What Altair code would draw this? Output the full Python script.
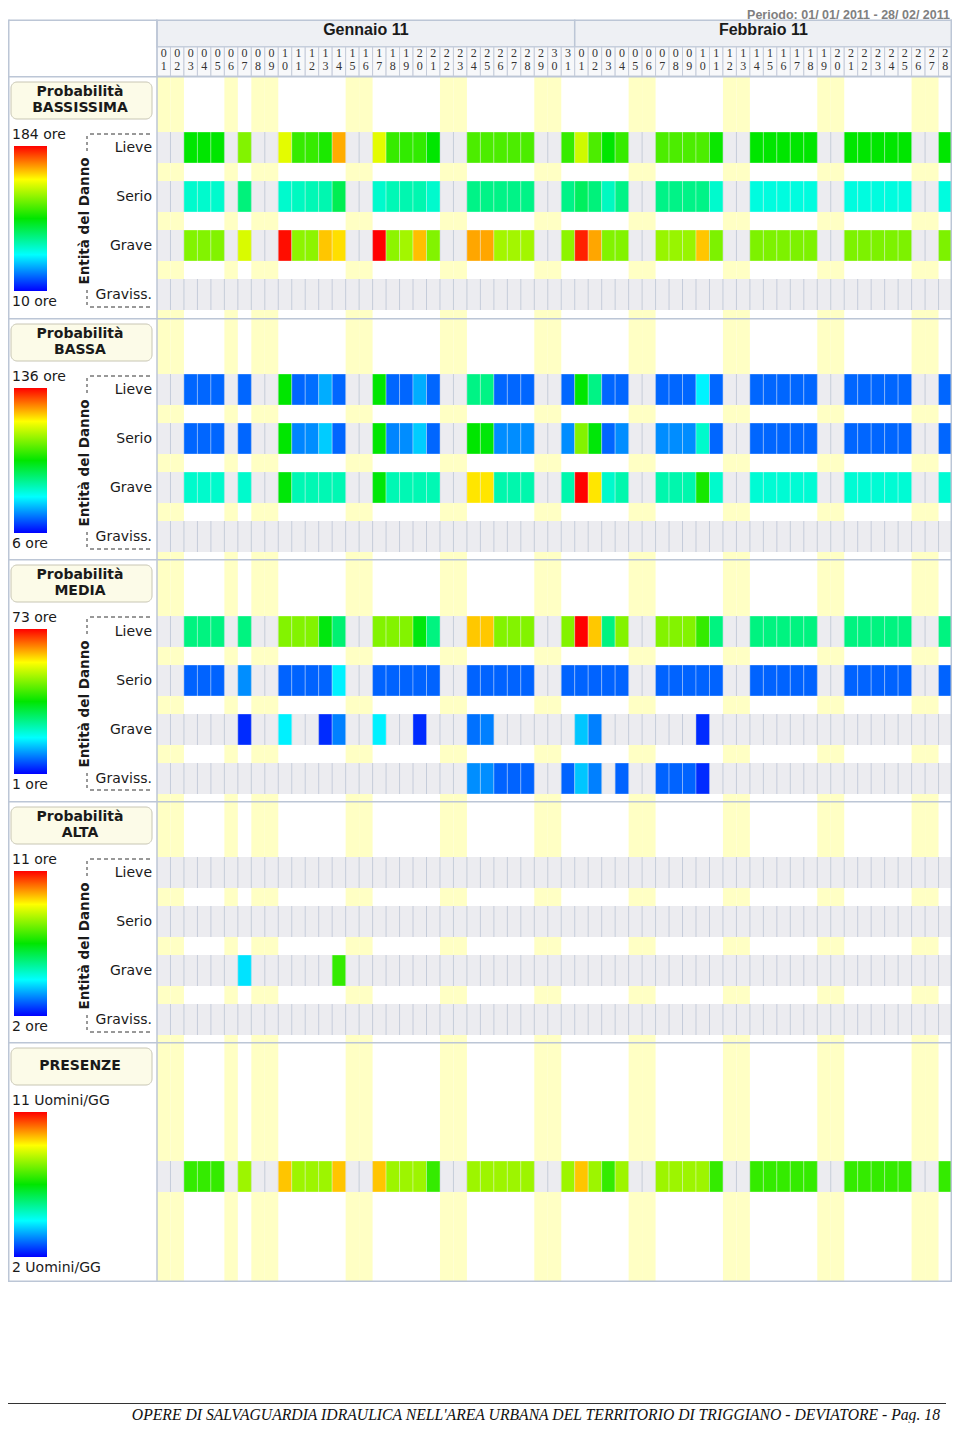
import altair as alt
import pandas as pd

# ---------------------------------------------------------------- data
MESI = ["Gennaio 11", "Febbraio 11"]
GIORNI_MESE = [31, 28]
FESTIVI = {"Gennaio 11": [1, 2, 6, 8, 9, 15, 16, 22, 23, 29, 30],
           "Febbraio 11": [5, 6, 12, 13, 19, 20, 26, 27]}
RIGHE = ["Lieve", "Serio", "Grave", "Graviss."]
PERIODO = "Periodo: 01/ 01/ 2011 - 28/ 02/ 2011"
PIEDE = ("OPERE DI SALVAGUARDIA IDRAULICA NELL'AREA URBANA DEL TERRITORIO "
         "DI TRIGGIANO - DEVIATORE - Pag. 18")
_ = None

# one value per working day:
# Jan 3,4,5,7 | 10-14 | 17-21 | 24-28 | 31 | Feb 1-4 | 7-11 | 14-18 | 21-25 | 28
BASSISSIMA_LIEVE = [97, 97, 97, 121, 139, 107, 107, 102, 157, 139, 107, 106, 106, 97,
                    111, 111, 111, 111, 111, 107, 135, 111, 97, 107, 111, 111, 111, 111, 99,
                    97, 97, 97, 97, 97, 97, 97, 97, 97, 97, 97]
BASSISSIMA_SERIO = [62, 62, 62, 76, 62, 64, 66, 67, 83, 62, 66, 67, 67, 62,
                    74, 74, 74, 74, 74, 74, 81, 76, 64, 74, 74, 74, 74, 74, 62,
                    59, 59, 59, 59, 59, 59, 59, 59, 59, 59, 59]
BASSISSIMA_GRAVE = [121, 121, 121, 137, 182, 123, 123, 153, 149, 184, 123, 127, 154, 121,
                    158, 158, 127, 127, 127, 123, 179, 158, 121, 121, 125, 125, 125, 153, 120,
                    120, 120, 120, 120, 120, 120, 120, 120, 120, 120, 120]
BASSISSIMA_GRAVISS = [_] * 40

BASSA_LIEVE = [19, 19, 19, 19, 71, 19, 20, 28, 19, 71, 19, 19, 28, 19,
               54, 54, 19, 19, 19, 19, 71, 54, 19, 19, 19, 19, 19, 37, 19,
               19, 19, 19, 19, 19, 19, 19, 19, 19, 19, 19]
BASSA_SERIO = [19, 19, 19, 19, 71, 23, 24, 32, 19, 71, 23, 24, 32, 19,
               71, 70, 24, 24, 24, 24, 89, 70, 19, 24, 24, 24, 24, 45, 19,
               19, 19, 19, 19, 19, 19, 19, 19, 19, 19, 19]
BASSA_GRAVE = [45, 45, 45, 45, 70, 48, 48, 48, 48, 70, 48, 48, 48, 48,
               109, 109, 49, 49, 49, 49, 136, 109, 45, 49, 49, 49, 49, 74, 45,
               44, 44, 44, 44, 44, 44, 44, 44, 44, 44, 44]
BASSA_GRAVISS = [_] * 40

MEDIA_LIEVE = [28, 28, 28, 28, 47, 47, 47, 36, 29, 47, 47, 47, 36, 28,
               60, 60, 47, 47, 47, 47, 73, 60, 28, 47, 47, 47, 47, 41, 28,
               28, 28, 28, 28, 28, 28, 28, 28, 28, 28, 28]
MEDIA_SERIO = [8, 8, 8, 11, 8, 8, 8, 8, 18, 8, 8, 8, 8, 8,
               8, 8, 8, 8, 8, 8, 8, 8, 8, 8, 8, 8, 8, 8, 8,
               8, 8, 8, 8, 8, 8, 8, 8, 8, 8, 8]
MEDIA_GRAVE = [_, _, _, 4, 18, _, _, 4, 10, 18, _, _, 4, _,
               9, 10, _, _, _, _, 15, 10, _, _, _, _, _, 4, _,
               _, _, _, _, _, _, _, _, _, _, _]
MEDIA_GRAVISS = [_, _, _, _, _, _, _, _, _, _, _, _, _, _,
                 11, 11, 8, 8, 8, 8, 15, 10, _, 8, 8, 8, 8, 4, _,
                 _, _, _, _, _, _, _, _, _, _, _]

ALTA_LIEVE = [_] * 40
ALTA_SERIO = [_] * 40
ALTA_GRAVE = [_, _, _, 4, _, _, _, _, 7, _, _, _, _, _,
              _, _, _, _, _, _, _, _, _, _, _, _, _, _, _,
              _, _, _, _, _, _, _, _, _, _, _]
ALTA_GRAVISS = [_] * 40

PRESENZE = [7, 7, 7, 8, 9.4, 8, 8, 8, 9.4, 9.4, 8, 8, 8, 7,
            8, 8, 8, 8, 8, 8, 9.4, 8, 7, 8, 8, 8, 8, 8, 7,
            7, 7, 7, 7, 7, 7, 7, 7, 7, 7, 7]

PANNELLI = [
    dict(titolo=["Probabilità", "BASSISSIMA"], vmax=184, vmin=10, unita="ore",
         righe=list(zip(RIGHE, [BASSISSIMA_LIEVE, BASSISSIMA_SERIO, BASSISSIMA_GRAVE, BASSISSIMA_GRAVISS]))),
    dict(titolo=["Probabilità", "BASSA"], vmax=136, vmin=6, unita="ore",
         righe=list(zip(RIGHE, [BASSA_LIEVE, BASSA_SERIO, BASSA_GRAVE, BASSA_GRAVISS]))),
    dict(titolo=["Probabilità", "MEDIA"], vmax=73, vmin=1, unita="ore",
         righe=list(zip(RIGHE, [MEDIA_LIEVE, MEDIA_SERIO, MEDIA_GRAVE, MEDIA_GRAVISS]))),
    dict(titolo=["Probabilità", "ALTA"], vmax=11, vmin=2, unita="ore",
         righe=list(zip(RIGHE, [ALTA_LIEVE, ALTA_SERIO, ALTA_GRAVE, ALTA_GRAVISS]))),
    dict(titolo=["PRESENZE"], vmax=11, vmin=2, unita="Uomini/GG",
         righe=[("", PRESENZE)]),
]

# ---------------------------------------------------------------- layout / style
W = 944
H = 1415
CW = 13.475                 # px per day
X0 = 149.0                  # px where day 0 starts
XR = X0 + 59 * CW - 0.75    # right frame
XDOM = [-X0 / CW, (W - X0) / CW]
PITCH = 49.0
BAND = 31.0
H_HEAD = 68
H_PAN = [242, 241, 242, 241, 240]
P_TOP = [H_HEAD]
for hh in H_PAN[:-1]:
    P_TOP.append(P_TOP[-1] + hh)
TOP_ROW = [56, 56, 57, 56, 119]
FOOT_LINE = 1395.5
FOOT_TEXT = 1411.5

FRAME = "#bcc6d6"
SEP = "#c5ccda"
GRAY = "#ececf0"
YELLOW = "#ffffc4"
TXT = "#1a1a1a"
SANS = "DejaVu Sans"

STOP_T = [0, 0.25, 0.5, 0.77, 1]
STOP_C = ["#0000ff", "#00ffff", "#00e600", "#ffff00", "#ff0000"]

# day table
giorni = []
for mese, n in zip(MESI, GIORNI_MESE):
    for g in range(1, n + 1):
        giorni.append(dict(d=len(giorni), mese=mese, g=g, fest=g in FESTIVI[mese],
                           dec=str(g // 10), uni=str(g % 10)))
df_g = pd.DataFrame(giorni)
NG = len(df_g)
LAV = df_g[~df_g.fest].d.tolist()

xsc = alt.Scale(domain=XDOM, nice=False, zero=False)
ONE = pd.DataFrame({"a": [0]})


def XF(f):
    return alt.X(f, type="quantitative", scale=xsc, axis=None)


def testo(txt, x, y, size, bold=False, align="left", font=SANS, color=TXT,
          angle=0, baseline="middle", italic=False):
    return alt.Chart(pd.DataFrame({"t": [txt]})).mark_text(
        align=align, baseline=baseline, fontSize=size, font=font,
        fontWeight="bold" if bold else "normal",
        fontStyle="italic" if italic else "normal", color=color, angle=angle
    ).encode(x=alt.value(x), y=alt.value(y), text="t:N")


def linea(x1, y1, x2, y2, color=FRAME, w=1.5, dash=None):
    kw = dict(color=color, strokeWidth=w)
    if dash:
        kw["strokeDash"] = dash
    return alt.Chart(ONE).mark_rule(**kw).encode(
        x=alt.value(x1), x2=alt.value(x2), y=alt.value(y1), y2=alt.value(y2))


def box(x1, y1, x2, y2, fill, stroke=None, r=0, w=1.0):
    kw = dict(fill=fill, cornerRadius=r)
    if stroke:
        kw.update(stroke=stroke, strokeWidth=w)
    return alt.Chart(ONE).mark_rect(**kw).encode(
        x=alt.value(x1), x2=alt.value(x2), y=alt.value(y1), y2=alt.value(y2))


gradiente = alt.LinearGradient(
    gradient="linear", x1=0, x2=0, y1=1, y2=0,
    stops=[alt.GradientStop(color=c, offset=t) for t, c in zip(STOP_T, STOP_C)])

# ---------------------------------------------------------------- header
mesi_df = pd.DataFrame(dict(mese=MESI,
                            i0=[0, GIORNI_MESE[0]],
                            i1=[GIORNI_MESE[0], GIORNI_MESE[0] + GIORNI_MESE[1]]))
head = alt.layer(
    testo(PERIODO, 942, 0.5, 12.5, bold=True, align="right", font="Liberation Sans",
          color="#808080", baseline="top"),
    alt.Chart(mesi_df).mark_rect(fill="#eef0f4", stroke=FRAME, strokeWidth=1.5)
    .encode(x=XF("i0"), x2="i1:Q", y=alt.value(12.25), y2=alt.value(39)),
    alt.Chart(mesi_df).mark_text(font="Liberation Sans", fontSize=16, fontWeight="bold",
                                 color=TXT, baseline="middle")
    .transform_calculate(m="(datum.i0 + datum.i1) / 2")
    .encode(x=XF("m"), y=alt.value(21.5), text="mese:N"),
    alt.Chart(df_g).mark_rect(fill="#f7f8fa", stroke=SEP, strokeWidth=1)
    .transform_calculate(d2="datum.d + 1")
    .encode(x=XF("d"), x2="d2:Q", y=alt.value(39), y2=alt.value(68)),
    alt.Chart(df_g).mark_text(font="Liberation Serif", fontSize=12, color="#333333",
                              baseline="middle")
    .transform_calculate(c="datum.d + 0.5")
    .encode(x=XF("c"), y=alt.value(45), text="dec:N"),
    alt.Chart(df_g).mark_text(font="Liberation Serif", fontSize=12, color="#333333",
                              baseline="middle")
    .transform_calculate(c="datum.d + 0.5")
    .encode(x=XF("c"), y=alt.value(57.5), text="uni:N"),
    linea(0.75, 12.25, X0, 12.25),
    linea(0.75, 11.5, 0.75, 68),
    linea(X0, 11.5, X0, 68),
    linea(XR, 11.5, XR, 68),
)


# ---------------------------------------------------------------- panels
def pannello(k):
    p = PANNELLI[k]
    h = H_PAN[k]
    P = P_TOP[k]
    top = P + TOP_ROW[k]
    vmin, vmax = p["vmin"], p["vmax"]
    # row units: row r occupies [r, r + BAND/PITCH]; pixel = top + u * PITCH
    ysc = alt.Scale(domain=[-top / PITCH, (H - top) / PITCH], reverse=True,
                    nice=False, zero=False)
    nr = len(p["righe"])
    bf = BAND / PITCH

    grid = pd.DataFrame([dict(d=d, r=r) for r in range(nr) for d in range(NG)])
    seps = pd.DataFrame([dict(d=d, r=r) for r in range(nr) for d in range(1, NG)])
    celle = pd.DataFrame([dict(d=LAV[i], r=r, v=v)
                          for r, (lab, vals) in enumerate(p["righe"])
                          for i, v in enumerate(vals) if v is not None])
    lab_df = pd.DataFrame([dict(r=r, lab=lab) for r, (lab, vals) in enumerate(p["righe"])])

    def Y(f):
        return alt.Y(f, type="quantitative", scale=ysc, axis=None)

    layers = [
        alt.Chart(df_g[df_g.fest]).mark_rect(fill=YELLOW)
        .transform_calculate(d2="datum.d + 1")
        .encode(x=XF("d"), x2="d2:Q", y=alt.value(P), y2=alt.value(P + h)),
        alt.Chart(grid).mark_rect(fill=GRAY)
        .transform_calculate(d2="datum.d + 1", r2=f"datum.r + {bf}")
        .encode(x=XF("d"), x2="d2:Q", y=Y("r"), y2="r2:Q"),
        alt.Chart(seps).mark_rule(color=SEP, strokeWidth=1)
        .transform_calculate(r2=f"datum.r + {bf}")
        .encode(x=XF("d"), y=Y("r"), y2="r2:Q"),
        alt.Chart(celle).mark_rect(stroke="#ffffff", strokeWidth=0.8, strokeOpacity=0.4)
        .transform_calculate(d2="datum.d + 1", r2=f"datum.r + {bf}",
                             t=f"(datum.v - {vmin}) / ({vmax} - {vmin})")
        .encode(x=XF("d"), x2="d2:Q", y=Y("r"), y2="r2:Q",
                color=alt.Color("t:Q", legend=None,
                                scale=alt.Scale(domain=STOP_T, range=STOP_C,
                                                interpolate="rgb", clamp=True))),
        # frame
        linea(0.75, P + 0.75, XR, P + 0.75),
        linea(0.75, P, 0.75, P + h),
        linea(X0, P, X0, P + h),
        linea(XR, P, XR, P + h),
        # title box
        box(3, P + 6, 144, P + 43, "#fcfbe8", stroke="#c8c6b4", r=6, w=1),
        # gradient bar + labels
        box(6, P + 70, 39, P + 215, gradiente),
        testo(f"{vmax} {p['unita']}", 4, P + 59, 14),
        testo(f"{vmin} {p['unita']}", 4, P + 226, 14),
    ]
    if len(p["titolo"]) == 2:
        layers += [testo(p["titolo"][0], 72, P + 16, 14, bold=True, align="center"),
                   testo(p["titolo"][1], 72, P + 32, 14, bold=True, align="center")]
    else:
        layers += [testo(p["titolo"][0], 72, P + 24, 14, bold=True, align="center")]
    if nr > 1:
        layers += [
            alt.Chart(lab_df).mark_text(align="right", baseline="middle", fontSize=14,
                                        font=SANS, color=TXT)
            .transform_calculate(ym=f"datum.r + {bf / 2}")
            .encode(x=alt.value(144), y=Y("ym"), text="lab:N"),
            testo("Entità del Danno", 77, P + 145, 13.5, bold=True, align="center", angle=270),
            linea(82, P + 58, 144, P + 58, color="#333333", w=1, dash=[4, 3]),
            linea(82, P + 231, 144, P + 231, color="#333333", w=1, dash=[4, 3]),
            linea(79, P + 60, 79, P + 75, color="#333333", w=1, dash=[3, 3]),
            linea(79, P + 214, 79, P + 229, color="#333333", w=1, dash=[3, 3]),
        ]
    if k == len(PANNELLI) - 1:
        layers += [linea(0.75, P + h - 0.75, XR, P + h - 0.75)]
    return alt.layer(*layers)


pannelli = [pannello(k) for k in range(len(PANNELLI))]

# ---------------------------------------------------------------- footer
foot = alt.layer(
    linea(0, FOOT_LINE, 938, FOOT_LINE, color="#333333", w=1),
    testo(PIEDE, 932, FOOT_TEXT, 15.7, align="right", font="Liberation Serif", italic=True,
          color="#111111", baseline="alphabetic"),
)

chart = alt.layer(head, *pannelli, foot).resolve_scale(
    y="independent", color="independent"
).properties(
    width=W, height=H, padding=0, autosize=alt.AutoSizeParams(type="none")
).configure_view(stroke=None)

chart.save("out.html", embed_options={"renderer": "svg", "actions": False})
